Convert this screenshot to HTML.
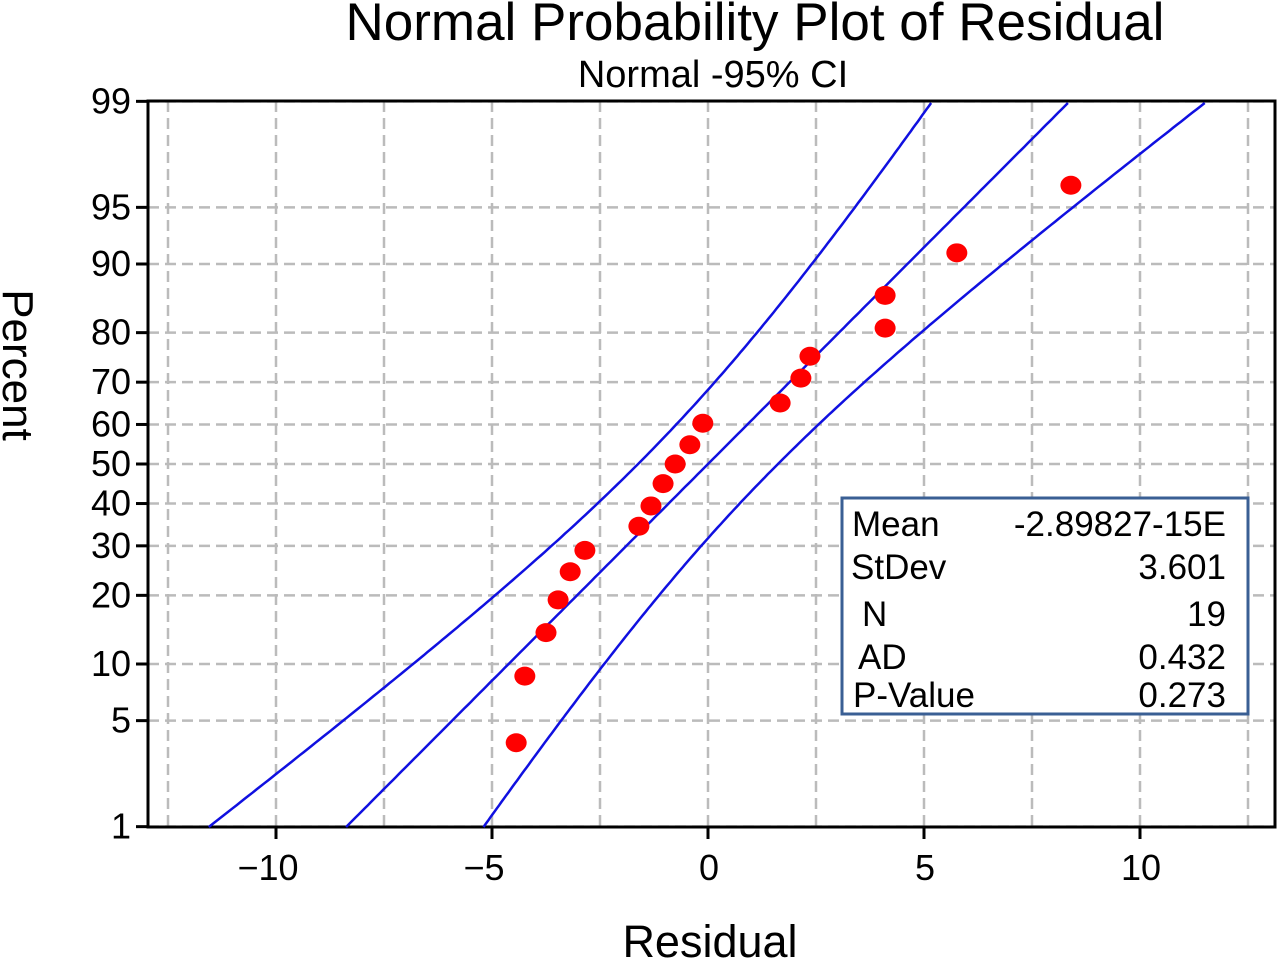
<!DOCTYPE html>
<html><head><meta charset="utf-8"><style>
body{margin:0;background:#fff;width:1280px;height:962px;overflow:hidden;font-family:"Liberation Sans",Arial,sans-serif}
svg text{font-family:"Liberation Sans",Arial,sans-serif}
</style></head><body>
<svg id="chart" width="1280" height="962">
<text x="755" y="40" font-size="53" text-anchor="middle">Normal Probability Plot of Residual</text>
<text x="713" y="87" font-size="38" text-anchor="middle">Normal -95% CI</text>
<text x="710" y="957" font-size="45" text-anchor="middle">Residual</text>
<text transform="translate(3,365) rotate(90)" font-size="44" text-anchor="middle">Percent</text>
<g id="grid"></g><g id="axes"></g><g id="lines"></g><g id="pts"></g>
<g>
<rect x="842" y="498" width="406" height="216" fill="#fff" stroke="#3a5f94" stroke-width="3"/>
<g font-size="35">
<text x="852" y="536">Mean</text><text x="1226" y="536" text-anchor="end">-2.89827-15E</text>
<text x="851" y="579">StDev</text><text x="1226" y="579" text-anchor="end">3.601</text>
<text x="862" y="626">N</text><text x="1226" y="626" text-anchor="end">19</text>
<text x="858" y="669">AD</text><text x="1226" y="669" text-anchor="end">0.432</text>
<text x="853" y="707">P-Value</text><text x="1226" y="707" text-anchor="end">0.273</text>
</g></g>
</svg>
<script>
const residuals=[-4.44,-4.24,-3.75,-3.47,-3.19,-2.85,-1.60,-1.32,-1.04,-0.76,-0.42,-0.12,1.67,2.15,2.36,4.10,4.10,5.76,8.40];
const percents=[3.7,8.7,14,19.2,24.5,29,34.5,39.4,45,50,54.9,60.3,65.2,70.9,75.5,80.8,86,91.2,96.3];
const xTicks=[-10,-5,0,5,10];
const xGrid=[-12.5,-10,-7.5,-5,-2.5,0,2.5,5,7.5,10,12.5];
const yTicks=[1,5,10,20,30,40,50,60,70,80,90,95,99];
const fitMean=[0];
const fitSd=[3.601];
const nObs=[19];
const NS="http://www.w3.org/2000/svg";
const L=148,R=1275,T=101,B=827;
function xs(v){return 708+v*43.2;}
function erfinv(x){const a=0.147,ln=Math.log(1-x*x),t=2/(Math.PI*a)+ln/2;return Math.sign(x)*Math.sqrt(Math.sqrt(t*t-ln/a)-t);}
function zq(p){return Math.SQRT2*erfinv(2*p-1);}
const zmax=2.3263;
function ys(p){return 464-zq(p/100)/zmax*363;}
function yz(z){return 464-z/zmax*363;}
function mk(tag,attrs,parent){const e=document.createElementNS(NS,tag);for(const k in attrs)e.setAttribute(k,attrs[k]);document.getElementById(parent).appendChild(e);return e;}
xGrid.forEach(v=>{const e=mk('line',{x1:xs(v),x2:xs(v),y1:T,y2:B,stroke:'#bbb','stroke-width':2.5,'stroke-dasharray':'11 6'},'grid');

});
yTicks.forEach(p=>{const y=ys(p);const e=mk('line',{x1:L,x2:R,y1:y,y2:y,stroke:'#bbb','stroke-width':2.5,'stroke-dasharray':'11 6'},'grid');


mk('line',{x1:L-12,x2:L,y1:y,y2:y,stroke:'#000','stroke-width':3},'axes');
const t=mk('text',{x:L-17,y:y+12,'font-size':36,'text-anchor':'end'},'axes');t.textContent=p;

});
xTicks.forEach(v=>{mk('line',{x1:xs(v),x2:xs(v),y1:B,y2:B+12,stroke:'#000','stroke-width':3},'axes');
const t=mk('text',{x:xs(v)+(v<0?-8:1),y:B+53,'font-size':36,'text-anchor':'middle'},'axes');t.textContent=(v<0?'\u2212':'')+Math.abs(v);

});
const fr=mk('rect',{x:L,y:T,width:R-L,height:B-T,fill:'none',stroke:'#000','stroke-width':3},'axes');


const m=fitMean[0],s=fitSd[0],n=nObs[0];
function clipPath(fn){let pts=[];for(let z=-zmax;z<=zmax+1e-9;z+=0.02){const x=fn(z);const px=xs(x);if(px<L||px>R)continue;pts.push(px.toFixed(1)+','+yz(z).toFixed(1));}return 'M'+pts.join('L');}
function w(z){return 1.96*s*Math.sqrt(1/n+z*z/(2*(n-1)));}
[['fit-line',z=>m+z*s],['ci-lower',z=>m+z*s-w(z)],['ci-upper',z=>m+z*s+w(z)]].forEach(([nm,f])=>{
const e=mk('path',{d:clipPath(f),fill:'none',stroke:'#1010e0','stroke-width':2.5},'lines');

});
residuals.forEach((r,i)=>{const c=mk('ellipse',{cx:xs(r),cy:ys(percents[i]),rx:10.5,ry:9.5,fill:'#f00'},'pts');

});
</script>
</body></html>
